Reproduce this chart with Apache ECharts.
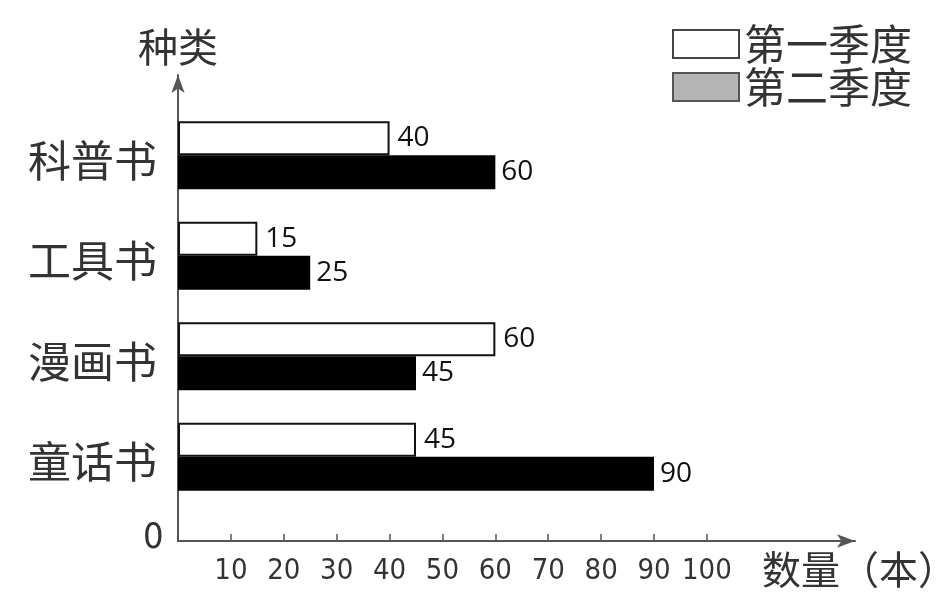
<!DOCTYPE html>
<html>
<head>
<meta charset="utf-8">
<script src="https://cdn.jsdelivr.net/npm/echarts@6/dist/echarts.min.js"></script>
<style>html,body{margin:0;padding:0;background:#fff}#c{width:950px;height:610px}</style>
</head>
<body>
<div id="c"></div>
<script>
var categories = ['科普书', '工具书', '漫画书', '童话书'];
var q1 = [40, 15, 60, 45];
var q2 = [60, 25, 45, 90];
var seriesNames = ['第一季度', '第二季度'];
var tickValues = [10, 20, 30, 40, 50, 60, 70, 80, 90, 100];

var cjk = '"Noto Sans CJK SC", sans-serif';
var narrow = '"DejaVu Sans Condensed", "Liberation Sans Narrow", sans-serif';
var chart = echarts.init(document.getElementById('c'));
chart.setOption({
  backgroundColor: '#fff',
  animation: false,
  legend: {
    orient: 'vertical', left: 667, top: 18,
    itemWidth: 66, itemHeight: 28, itemGap: 1, itemTextGap: 7,
    icon: 'rect',
    textStyle: { fontFamily: cjk, fontSize: 42, color: '#333' },
    data: [
      { name: seriesNames[0], itemStyle: { color: '#fff', borderColor: '#444', borderWidth: 2 } },
      { name: seriesNames[1], itemStyle: { color: '#b4b4b4', borderColor: '#555', borderWidth: 2 } }
    ]
  },
  grid: [
    { left: 178, right: 95, top: 105, bottom: 103, containLabel: false, outerBoundsMode: 'none' },
    { left: 178, width: 10, top: 75, bottom: 69, containLabel: false, outerBoundsMode: 'none' }
  ],
  xAxis: [
    {
      gridIndex: 0, type: 'value', min: 0, max: 128, interval: 10, offset: 34,
      name: '数量（本）', nameLocation: 'end', nameGap: -93,
      nameTextStyle: { fontFamily: cjk, fontSize: 39, color: '#333', align: 'left', verticalAlign: 'top', padding: [9, 0, 0, 0] },
      axisLine: { show: true, symbol: ['none', 'arrow'], symbolSize: [10, 18], lineStyle: { color: '#555', width: 2 } },
      axisTick: { show: true, inside: true, length: 7, customValues: tickValues, lineStyle: { color: '#555', width: 1.5 } },
      axisLabel: { customValues: tickValues, margin: 16, fontFamily: narrow, fontSize: 29, color: '#333' },
      splitLine: { show: false }
    },
    { gridIndex: 1, type: 'value', show: false }
  ],
  yAxis: [
    {
      gridIndex: 0, type: 'category', inverse: true, data: categories,
      axisLine: { show: false }, axisTick: { show: false },
      axisLabel: { margin: 21, fontFamily: cjk, fontSize: 43, color: '#333', verticalAlign: 'top', lineHeight: 10 }
    },
    {
      gridIndex: 1, type: 'value', min: 0, max: 1,
      name: '种类', nameLocation: 'end', nameGap: 8,
      nameTextStyle: { fontFamily: cjk, fontSize: 40, color: '#333' },
      axisLine: { show: true, symbol: ['none', 'arrow'], symbolSize: [10, 18], lineStyle: { color: '#555', width: 2 } },
      axisTick: { show: false }, axisLabel: { show: false }, splitLine: { show: false }
    }
  ],
  graphic: [
    { type: 'text', left: 143, top: 521, style: { text: '0', fontFamily: narrow, fontSize: 36, fill: '#333' } }
  ],
  series: [
    {
      name: seriesNames[0], type: 'bar', data: q1, barWidth: 34, barGap: '0%',
      itemStyle: { color: '#fff', borderColor: '#111', borderWidth: 2 },
      label: { show: true, position: 'right', distance: 8, fontFamily: '"Open Sans", sans-serif', fontSize: 28, color: '#111', padding: [6, 0, 0, 0] }
    },
    {
      name: seriesNames[1], type: 'bar', data: q2, barWidth: 34,
      itemStyle: { color: '#000' },
      label: { show: true, position: 'right', distance: 6, fontFamily: '"Open Sans", sans-serif', fontSize: 28, color: '#111', padding: [4, 0, 0, 0] }
    }
  ]
});
</script>
</body>
</html>
